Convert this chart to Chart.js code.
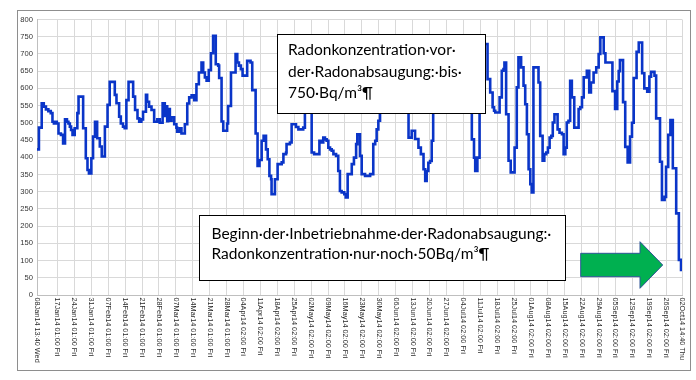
<!DOCTYPE html>
<html>
<head>
<meta charset="utf-8">
<script src="https://cdn.jsdelivr.net/npm/chart.js@4/dist/chart.umd.min.js"></script>
<style>
html,body{margin:0;padding:0;background:#fff;}
#wrap{width:696px;height:380px;position:relative;}
</style>
</head>
<body>
<div id="wrap"><canvas id="c" width="696" height="380"></canvas></div>
<script>
// Days since 08Jan14 13:40 at which the measured value changes
const stepDays = [
  0,0.8,1.95,2.8,3.7,4.7,5.7,6.4,7.0,7.6,8.2,8.9,9.9,10.8,11.6,12.4,13.0,13.6,14.1,14.7,
  15.6,16.7,17.2,19.1,20.2,20.9,21.5,22.5,23.2,24.0,24.9,26.0,26.8,28.1,29.2,30.1,32.2,32.9,34.0,34.7,
  35.6,36.3,37.0,37.9,39.8,40.6,41.6,42.3,43.2,43.9,45.1,45.6,46.4,47.4,48.5,49.8,50.8,52.0,52.9,53.3,
  53.9,54.3,55.0,55.7,56.8,57.7,58.0,59.1,59.8,61.2,62.2,63.0,64.0,65.1,66.0,67.0,68.1,68.8,69.5,70.2,
  71.1,72.0,72.9,74.0,75.0,75.4,76.4,77.1,78.7,79.1,80.3,82.2,82.9,83.6,84.4,85.1,87.0,88.4,89.1,90.5,
  91.3,92.1,93.0,93.8,94.8,95.5,96.2,96.9,97.1,98.5,99.6,101.3,102.0,103.1,103.3,104.7,105.4,107.2,108.2,110.2,
  110.9,111.6,112.6,113.7,114.7,116.9,117.9,118.5,119.2,119.9,120.6,121.3,122.0,122.7,123.8,124.7,125.4,126.1,127.2,127.8,
  128.6,130.3,131.2,132.1,132.6,133.7,134.4,135.8,137.9,139.2,140.0,140.6,141.3,142.0,143.0,145.0,147.0,149.0,151.0,152.6,
  153.8,155.1,156.5,157.9,158.9,160.0,160.7,161.3,162.0,162.7,163.4,164.0,165.2,167.0,169.0,171.0,173.0,175.0,177.0,178.8,
  180.0,180.9,181.4,182.3,183.2,184.2,185.2,186.5,187.6,188.6,189.2,189.7,191.5,192.4,193.1,193.5,194.2,195.2,196.1,197.7,
  198.6,199.3,200.4,201.4,202.1,202.8,203.5,204.2,204.8,205.5,207.6,208.3,209.3,210.0,210.8,211.5,212.2,212.9,213.5,214.2,
  215.5,216.3,217.3,218.0,218.7,219.3,220.0,220.7,221.4,222.4,224.2,224.9,225.6,226.3,227.6,228.6,229.3,230.4,231.5,232.5,
  233.2,234.6,235.3,238.2,239.3,240.2,240.8,241.3,242.6,243.5,244.5,245.5,246.3,247.0,248.2,249.1,250.5,251.4,252.6,253.5,
  254.2,255.6,256.3,257.9,258.7,259.8,260.4,261.3,262.2,263.2,264.6,265.7,266.6,267.0
];
// Radon concentration in Bq/m3
const radonValues = [
  423,486,557,547,539,534,528,503,498,503,498,469,465,440,510,503,498,489,479,465,
  484,528,576,484,397,363,353,397,460,503,455,431,402,489,552,619,581,557,518,498,
  489,484,566,619,576,537,513,503,510,532,581,561,547,537,503,510,500,557,520,548,
  505,540,506,516,496,486,474,484,469,496,556,574,580,566,612,646,675,646,632,622,
  653,702,753,670,666,630,504,477,498,549,646,700,675,666,656,637,680,675,595,469,
  375,392,448,462,423,394,346,336,293,336,380,385,409,414,438,443,496,488,481,486,
  560,620,600,414,409,448,443,457,452,448,428,423,419,409,404,360,302,298,293,283,
  351,380,399,438,467,404,351,346,351,438,448,481,506,560,640,690,650,710,660,580,
  457,477,453,428,409,365,331,360,384,389,448,560,650,700,660,720,680,610,650,560,
  452,399,360,399,560,680,729,627,588,545,535,530,574,651,656,675,525,390,356,428,
  603,690,661,608,554,467,365,322,298,661,617,462,390,409,414,428,457,462,501,525,
  481,471,467,409,428,501,506,622,574,486,540,545,574,632,651,588,617,646,661,700,
  748,702,675,592,540,620,650,682,560,430,385,460,500,630,706,733,644,600,590,634,
  648,637,513,387,276,285,372,465,508,368,237,102,73,73
];
// x-axis tick positions (days) and their labels
const tickDays = [0,8.47,15.47,22.47,29.47,36.47,43.47,50.47,57.47,64.47,71.47,78.47,85.47,92.47,99.47,
  106.47,113.47,120.47,127.47,134.47,141.47,148.47,155.47,162.47,169.47,176.47,183.47,190.47,197.47,204.47,
  211.47,218.47,225.47,232.47,239.47,246.47,253.47,260.47,267];
const tickLabels = ["08Jan14 13:40 Wed","17Jan14 01:00 Fri","24Jan14 01:00 Fri","31Jan14 01:00 Fri","07Feb14 01:00 Fri",
  "14Feb14 01:00 Fri","21Feb14 01:00 Fri","28Feb14 01:00 Fri","07Mar14 01:00 Fri","14Mar14 01:00 Fri","21Mar14 01:00 Fri",
  "28Mar14 01:00 Fri","04Apr14 02:00 Fri","11Apr14 02:00 Fri","18Apr14 02:00 Fri","25Apr14 02:00 Fri","02May14 02:00 Fri",
  "09May14 02:00 Fri","16May14 02:00 Fri","23May14 02:00 Fri","30May14 02:00 Fri","06Jun14 02:00 Fri","13Jun14 02:00 Fri",
  "20Jun14 02:00 Fri","27Jun14 02:00 Fri","04Jul14 02:00 Fri","11Jul14 02:00 Fri","18Jul14 02:00 Fri","25Jul14 02:00 Fri",
  "01Aug14 02:00 Fri","08Aug14 02:00 Fri","15Aug14 02:00 Fri","22Aug14 02:00 Fri","29Aug14 02:00 Fri","05Sep14 02:00 Fri",
  "12Sep14 02:00 Fri","19Sep14 02:00 Fri","26Sep14 02:00 Fri","02Oct14 14:40 Thu"];
const noteTop = ["Radonkonzentration·vor·","der·Radonabsaugung:·bis·","750·Bq/m³¶"];
const noteBottom = ["Beginn·der·Inbetriebnahme·der·Radonabsaugung:·","Radonkonzentration·nur·noch·50Bq/m³¶"];

const points = stepDays.map((d,i)=>({x:d,y:radonValues[i]}));

const overlay = {
  id:'overlay',
  beforeDraw(chart){
    const ctx=chart.ctx;
    ctx.save();
    ctx.fillStyle='#fff';
    ctx.fillRect(0,0,chart.width,chart.height);
    ctx.restore();
  },
  afterDraw(chart){
    const ctx=chart.ctx;
    const xs=chart.scales.x;
    ctx.save();
    // outer frame
    ctx.strokeStyle='#8e8e8e';
    ctx.lineWidth=1;
    ctx.strokeRect(17.5,10.5,673,360);
    // rotated x labels
    ctx.fillStyle='#2a2a2a';
    ctx.font='7.3px "Liberation Sans", Arial, sans-serif';
    ctx.textAlign='left';
    ctx.textBaseline='middle';
    tickDays.forEach((d,i)=>{
      const px=xs.getPixelForValue(d);
      ctx.save();
      ctx.translate(px,297.5);
      ctx.rotate(Math.PI/2);
      ctx.fillText(tickLabels[i],0,0);
      ctx.restore();
    });
    // note boxes
    function box(x,y,w,h,lines,tx,ty,lh){
      ctx.fillStyle='#fff';
      ctx.fillRect(x,y,w,h);
      ctx.strokeStyle='#000';
      ctx.lineWidth=1;
      ctx.strokeRect(x+0.5,y+0.5,w,h);
      ctx.fillStyle='#000';
      ctx.font='15.5px Lato, "Open Sans", sans-serif';
      ctx.textAlign='left';
      ctx.textBaseline='middle';
      lines.forEach((t,i)=>ctx.fillText(t,tx,ty+i*lh));
    }
    box(277,34,208,79,noteTop,288,50,21.7);
    box(199,215,366,65,noteBottom,211.5,233.5,20);
    // arrow
    ctx.beginPath();
    ctx.moveTo(580.7,253.3);
    ctx.lineTo(640,253.3);
    ctx.lineTo(640,241.7);
    ctx.lineTo(662.7,265);
    ctx.lineTo(640,288.3);
    ctx.lineTo(640,276.7);
    ctx.lineTo(580.7,276.7);
    ctx.closePath();
    ctx.fillStyle='#00b050';
    ctx.fill();
    ctx.strokeStyle='#2f5597';
    ctx.lineWidth=1;
    ctx.stroke();
    ctx.restore();
  }
};

new Chart(document.getElementById('c'),{
  type:'line',
  data:{datasets:[{
    data:points,
    stepped:'before',
    borderColor:'#0a35c8',
    borderWidth:2.6,
    pointRadius:0,
    fill:false
  }]},
  options:{
    responsive:false,
    animation:false,
    devicePixelRatio:1,
    layout:{padding:{left:0,right:14,top:19.5,bottom:0}},
    plugins:{legend:{display:false},tooltip:{enabled:false}},
    scales:{
      x:{
        type:'linear',
        min:0,max:267,
        afterBuildTicks:(axis)=>{axis.ticks=tickDays.map(v=>({value:v}));},
        afterFit:(axis)=>{axis.height=85;},
        ticks:{display:false},
        grid:{color:'#d9d9d9',lineWidth:1,drawTicks:false},
        border:{color:'#bfbfbf'}
      },
      y:{
        min:0,max:800,
        afterFit:(axis)=>{axis.width=37;},
        ticks:{stepSize:50,padding:4,color:'#333',font:{family:'"Liberation Sans", Arial, sans-serif',size:7.6}},
        grid:{color:'#d9d9d9',lineWidth:1,drawTicks:false},
        border:{color:'#bfbfbf'}
      }
    }
  },
  plugins:[overlay]
});
</script>
</body>
</html>
